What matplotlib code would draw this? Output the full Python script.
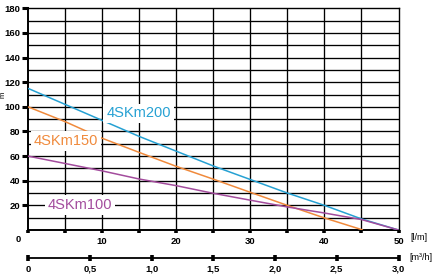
import matplotlib
matplotlib.use("Agg")
import matplotlib.pyplot as plt
import numpy as np

plt.rcParams['font.family'] = ['Liberation Sans', 'DejaVu Sans']

# ---- data ----
q_200 = [0, 5, 10, 15, 20, 25, 30, 35, 40, 45, 50]
h_200 = [115, 102, 89, 76, 64, 52, 41, 30, 20, 9, 0]

q_150 = [0, 5, 10, 15, 20, 25, 30, 35, 40, 45.2]
h_150 = [100, 88, 74.5, 63, 51.7, 41.3, 30.6, 20, 9.8, 0]

q_100 = [0, 5, 10, 15, 20, 25, 30, 35, 40, 45, 50]
h_100 = [60, 54, 48, 41.4, 36, 29.8, 24.2, 18.7, 13.8, 8.5, 0]

series_names = ["4SKm200", "4SKm150", "4SKm100"]
series_colors = ["#26a1d3", "#f08a3c", "#a34c9d"]

y_ticks = [20, 40, 60, 80, 100, 120, 140, 160, 180]
x_ticks_lpm = [10, 20, 30, 40, 50]
x_ticks_m3h = [0, 0.5, 1.0, 1.5, 2.0, 2.5, 3.0]
x_labels_m3h = ["0", "0,5", "1,0", "1,5", "2,0", "2,5", "3,0"]

W, H = 442, 276
fig = plt.figure(figsize=(W / 100, H / 100), dpi=100)

x0, x1 = 28, 398.5
y_top, y_bot = 8.3, 230
ax = fig.add_axes([x0 / W, 1 - y_bot / H, (x1 - x0) / W, (y_bot - y_top) / H])
ax.set_xlim(0, 50)
ax.set_ylim(0, 180)

# grid
for yv in range(10, 180, 10):
    ax.axhline(yv, color="black", lw=0.95, zorder=1)
for xv in range(5, 50, 5):
    ax.axvline(xv, color="black", lw=0.95, zorder=1)

for sp in ["left", "bottom"]:
    ax.spines[sp].set_linewidth(1.4)
for sp in ["top", "right"]:
    ax.spines[sp].set_linewidth(1.0)

# curves
ax.plot(q_200, h_200, color=series_colors[0], lw=1.1, zorder=3, solid_capstyle="butt")
ax.plot(q_150, h_150, color=series_colors[1], lw=1.1, zorder=3, solid_capstyle="butt")
ax.plot(q_100, h_100, color=series_colors[2], lw=1.1, zorder=3, solid_capstyle="butt")

# ticks
ax.set_yticks(y_ticks)
ax.set_yticklabels([str(v) for v in y_ticks], fontsize=6.8, fontweight="bold")
ax.tick_params(axis="y", direction="out", length=4.5, width=2.2, pad=0.8)

ax.set_xticks(np.arange(0, 51, 5))
ax.set_xticklabels(["" if (v % 10 or v == 0) else str(v) for v in range(0, 51, 5)],
                   fontsize=6.8, fontweight="bold")
ax.tick_params(axis="x", direction="out", length=2.5, width=2.6, pad=2.5)

fig.text(18.3 / W, 1 - 240 / H, "0", ha="center", va="center",
         fontsize=6.8, fontweight="bold")

# curve labels
lab_kw = dict(fontsize=10.5, ha="center", va="center", zorder=5,
              bbox=dict(boxstyle="square,pad=0.2", fc="white", ec="none"))


def put(px, py, s, c):
    xd, yd = ax.transData.inverted().transform((px, H - py))
    ax.text(xd, yd, s, color=c, **lab_kw)


put(138.5, 113.5, series_names[0], series_colors[0])
put(66, 141, series_names[1], series_colors[1])
put(80, 205, series_names[2], series_colors[2])

# secondary axis m3/h
y2 = 257.7
ax2 = fig.add_axes([x0 / W, 1 - y2 / H, (x1 - x0) / W, 0.0001])
ax2.set_xlim(0, 3)
ax2.set_yticks([])
for sp in ["left", "right", "top"]:
    ax2.spines[sp].set_visible(False)
ax2.spines["bottom"].set_linewidth(1.3)
ax2.set_xticks(x_ticks_m3h)
ax2.set_xticklabels(x_labels_m3h, fontsize=6.8, fontweight="bold")
ax2.tick_params(axis="x", direction="inout", length=4, width=2.6, pad=3)
ax2.patch.set_visible(False)

# units
fig.text(418.5 / W, 1 - 238 / H, "[l/m]", ha="center", va="center", fontsize=6.5)
fig.text(421 / W, 1 - 257 / H, "[m³/h]", ha="center", va="center", fontsize=6.5)

# y label near the left edge
fig.text(3.5 / W, 1 - 95 / H, "m", rotation=90, ha="center", va="center", fontsize=5.5)

fig.savefig("out.png", dpi=100)
